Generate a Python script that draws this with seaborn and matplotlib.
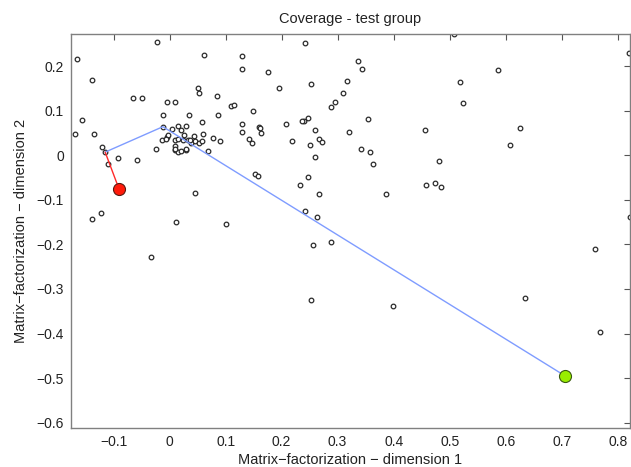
import numpy as np
import pandas as pd
import matplotlib
matplotlib.use("Agg")
import matplotlib.pyplot as plt
import seaborn as sns

# Scatter points (dimension 1, dimension 2)
dim1 = [-0.165, -0.169, -0.156, -0.138, -0.135, -0.121, -0.115, -0.110, -0.0925, -0.0575,
        -0.065, -0.050, -0.022, -0.0236, -0.014, -0.012, -0.012, -0.0045, -0.004, 0.0093,
        0.0146, 0.021, 0.0295, 0.0098, 0.0104, 0.0098, 0.0157, 0.020, 0.0236, 0.026,
        0.0295, 0.0343, 0.0336, 0.0384, 0.0432, 0.045, 0.052, 0.0586, 0.060, 0.0586,
        0.0455, 0.0616, 0.0514, 0.053, 0.069, 0.078, 0.084, 0.086, 0.090, 0.110,
        0.1146, 0.129, 0.129, 0.129, 0.130, 0.149, 0.1425, 0.147, 0.153, 0.158,
        0.159, 0.0045, -0.003, -0.006, 0.0146, 0.0366, 0.0093, 0.0295,
        0.242, 0.176, 0.336, 0.344, 0.253, 0.317, 0.196, 0.309, 0.295, 0.288,
        0.355, 0.240, 0.247, 0.237, 0.208, 0.1616, 0.164, 0.260, 0.320, 0.456,
        0.219, 0.250, 0.267, 0.272, 0.342, 0.358, 0.363, 0.259, 0.481, 0.247,
        0.2336, 0.2675, 0.386, 0.458, 0.474, 0.484,
        0.508, 0.8205, 0.586, 0.518, 0.523, 0.626, 0.608,
        -0.138, -0.122, 0.012, 0.101, -0.033, 0.241, 0.263, 0.256, 0.288, 0.253,
        0.398, 0.635, 0.759, 0.769, 0.822]
dim2 = [0.216, 0.047, 0.079, 0.169, 0.047, 0.018, 0.007, -0.020, -0.006, -0.011,
        0.128, 0.128, 0.254, 0.015, 0.034, 0.064, 0.091, 0.0415, 0.119, 0.119,
        0.0655, 0.057, 0.065, 0.034, 0.020, 0.012, 0.0065, 0.010, 0.034, 0.0446,
        0.012, 0.091, 0.034, 0.027, 0.043, 0.032, 0.027, 0.075, 0.0475, 0.0325,
        -0.084, 0.225, 0.150, 0.140, 0.010, 0.039, 0.133, 0.091, 0.032, 0.110,
        0.113, 0.223, 0.193, 0.052, 0.0707, 0.099, 0.037, 0.027, -0.043, -0.046,
        0.064, 0.058, 0.0446, 0.0357, 0.037, 0.034, 0.014, 0.0146,
        0.251, 0.187, 0.212, 0.193, 0.159, 0.167, 0.150, 0.1395, 0.120, 0.109,
        0.081, 0.077, 0.083, 0.077, 0.069, 0.062, 0.051, 0.057, 0.053, 0.057,
        0.033, 0.0236, 0.0357, 0.030, 0.013, 0.008, -0.019, -0.005, -0.013, -0.048,
        -0.067, -0.088, -0.086, -0.067, -0.063, -0.071,
        0.272, 0.230, 0.191, 0.1635, 0.118, 0.062, 0.0236,
        -0.143, -0.130, -0.150, -0.154, -0.228, -0.1245, -0.138, -0.201, -0.195, -0.324,
        -0.339, -0.320, -0.210, -0.397, -0.139]

# Path: red segment, then blue segments
red_x = [-0.090, -0.115]
red_y = [-0.0766, 0.007]
blue_x = [-0.115, -0.012, 0.706]
blue_y = [0.007, 0.064, -0.495]
start_pt = (-0.090, -0.0766)
end_pt = (0.706, -0.495)

xticks = [-0.1, 0, 0.1, 0.2, 0.3, 0.4, 0.5, 0.6, 0.7, 0.8]
yticks = [0.2, 0.1, 0, -0.1, -0.2, -0.3, -0.4, -0.5, -0.6]

sns.set_style("white")
plt.rcParams['font.family'] = ['Liberation Sans', 'DejaVu Sans']
plt.rcParams['axes.unicode_minus'] = True

fig = plt.figure(figsize=(6.31, 4.67), dpi=100)
ax = fig.add_axes([71/631, 1-428/467, (630-71)/631, (428-34)/467])

pts = pd.DataFrame({"d1": dim1, "d2": dim2})
sns.scatterplot(data=pts, x="d1", y="d2", ax=ax, marker="o", s=11,
                facecolor="white", edgecolor="#2a2a2a", linewidth=0.9, zorder=2)

sns.lineplot(x=blue_x, y=blue_y, sort=False, estimator=None, ax=ax,
             color="#7f9cff", linewidth=1.0, zorder=3)
sns.lineplot(x=red_x, y=red_y, sort=False, estimator=None, ax=ax,
             color="#ff2a2a", linewidth=1.0, zorder=3)

sns.scatterplot(x=[start_pt[0]], y=[start_pt[1]], ax=ax, s=75, color="#ff1a0a",
                edgecolor="#5a1a10", linewidth=0.8, zorder=4)
sns.scatterplot(x=[end_pt[0]], y=[end_pt[1]], ax=ax, s=75, color="#99ee00",
                edgecolor="#3a5a10", linewidth=0.8, zorder=4)

ax.set_xlim(-0.176, 0.822)
ax.set_ylim(-0.612, 0.272)
ax.set_xticks(xticks)
ax.set_yticks(yticks)
ax.set_xticklabels([("%g" % t).replace("-", "\u2212") for t in xticks])
ax.set_yticklabels([("%g" % t).replace("-", "\u2212") for t in yticks])
ax.tick_params(direction="in", length=4, width=0.8, color="#555555",
               top=True, right=True, labelsize=10, labelcolor="#222222", pad=5)
for sp in ax.spines.values():
    sp.set_visible(True)
    sp.set_color("#808080")
    sp.set_linewidth(1.0)

ax.set_xlabel("Matrix\u2212factorization \u2212 dimension 1", fontsize=10.5, color="#222222", labelpad=3)
ax.set_ylabel("Matrix\u2212factorization \u2212 dimension 2", fontsize=10.5, color="#222222", labelpad=6)
ax.set_title("Coverage - test group", fontsize=10.5, color="#222222", pad=8)

fig.savefig("out.png", dpi=100)
